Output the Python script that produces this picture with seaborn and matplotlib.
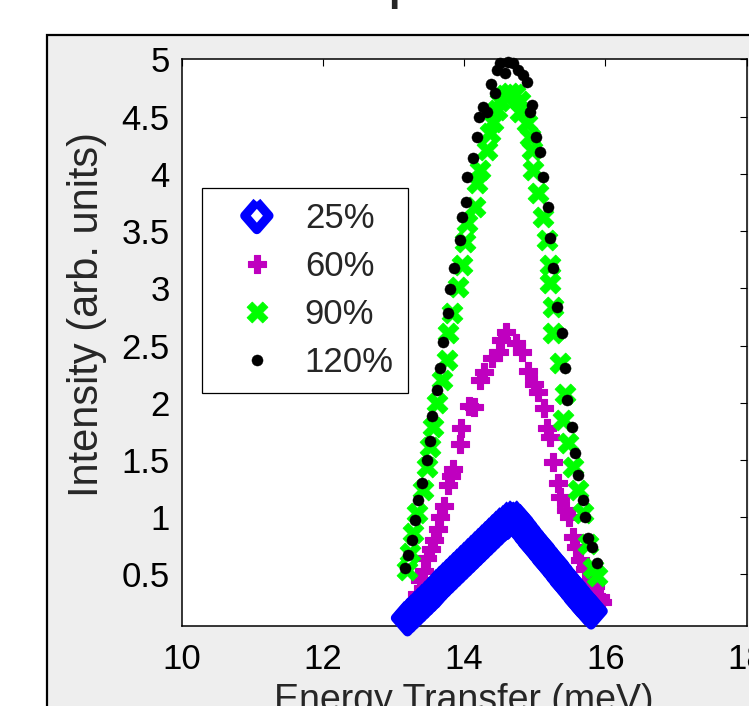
import numpy as np
import pandas as pd
import seaborn as sns
import matplotlib.pyplot as plt
from matplotlib.patches import Rectangle
from matplotlib.ticker import FuncFormatter

# values (energy in meV, intensity in arb. units)
labels = ['25%', '60%', '90%', '120%']

e_25 = [13.20, 13.25, 13.30, 13.35, 13.40, 13.45, 13.50, 13.55, 13.60, 13.65,
        13.70, 13.75, 13.80, 13.85, 13.90, 13.95, 14.00, 14.05, 14.10, 14.15,
        14.20, 14.25, 14.30, 14.35, 14.40, 14.45, 14.50, 14.55, 14.60, 14.65,
        14.70, 14.75, 14.80, 14.85, 14.90, 14.95, 15.00, 15.05, 15.10, 15.15,
        15.20, 15.25, 15.30, 15.35, 15.40, 15.45, 15.50, 15.55, 15.60, 15.65,
        15.70, 15.75, 15.80]
i_25 = [0.12, 0.15, 0.18, 0.21, 0.24, 0.27, 0.30, 0.33, 0.36, 0.40,
        0.43, 0.46, 0.49, 0.52, 0.55, 0.58, 0.61, 0.64, 0.67, 0.70,
        0.73, 0.76, 0.79, 0.82, 0.85, 0.88, 0.91, 0.94, 0.96, 0.99,
        1.00, 0.97, 0.93, 0.89, 0.85, 0.81, 0.77, 0.74, 0.70, 0.66,
        0.62, 0.59, 0.55, 0.51, 0.47, 0.43, 0.40, 0.36, 0.32, 0.28,
        0.25, 0.21, 0.18]

e_60 = [13.30, 13.34, 13.38, 13.43, 13.48, 13.53, 13.58, 13.63, 13.66, 13.71,
        13.77, 13.81, 13.84, 13.94, 13.96, 14.07, 14.14, 14.22, 14.29, 14.40,
        14.50, 14.52, 14.59, 14.73, 14.82, 14.91, 14.99, 15.05, 15.13, 15.17,
        15.22, 15.26, 15.33, 15.36, 15.44, 15.48, 15.54, 15.59, 15.64, 15.72,
        15.80, 15.85, 15.92, 15.95]
i_60 = [0.26, 0.33, 0.45, 0.53, 0.64, 0.72, 0.80, 0.90, 1.00, 1.10,
        1.28, 1.36, 1.42, 1.64, 1.78, 1.97, 1.96, 2.20, 2.27, 2.39,
        2.44, 2.55, 2.62, 2.52, 2.44, 2.28, 2.16, 2.09, 1.95, 1.78,
        1.70, 1.48, 1.30, 1.18, 1.06, 1.00, 0.83, 0.74, 0.63, 0.55,
        0.44, 0.40, 0.30, 0.26]

e_90 = [13.19, 13.24, 13.28, 13.34, 13.42, 13.48, 13.52, 13.56, 13.62, 13.69,
        13.76, 13.77, 13.83, 13.92, 13.97, 14.01, 14.04, 14.16, 14.18, 14.23,
        14.33, 14.37, 14.41, 14.47, 14.51, 14.58, 14.65, 14.72, 14.79, 14.79,
        14.89, 14.94, 14.96, 14.98, 15.05, 15.12, 15.18, 15.22, 15.22, 15.26,
        15.26, 15.36, 15.43, 15.40, 15.47, 15.54, 15.61, 15.69, 15.76, 15.83,
        15.88]
i_90 = [0.54, 0.69, 0.86, 1.04, 1.24, 1.44, 1.61, 1.79, 2.00, 2.20,
        2.37, 2.61, 2.78, 3.01, 3.20, 3.40, 3.57, 3.71, 3.92, 4.03,
        4.21, 4.36, 4.45, 4.56, 4.64, 4.69, 4.71, 4.70, 4.64, 4.54,
        4.44, 4.32, 4.21, 4.03, 3.83, 3.62, 3.42, 3.20, 3.05, 2.84,
        2.61, 2.35, 2.08, 1.85, 1.65, 1.44, 1.24, 1.04, 0.77, 0.56,
        0.49]

e_120 = [13.17, 13.21, 13.26, 13.31, 13.35, 13.41, 13.48, 13.52, 13.55, 13.62,
         13.66, 13.70, 13.77, 13.80, 13.86, 13.94, 13.97, 14.03, 14.04, 14.13,
         14.18, 14.21, 14.27, 14.33, 14.38, 14.44, 14.47, 14.51, 14.58, 14.62,
         14.69, 14.77, 14.84, 14.89, 14.96, 14.94, 15.02, 15.08, 15.12, 15.19,
         15.22, 15.26, 15.32, 15.39, 15.43, 15.46, 15.53, 15.57, 15.61, 15.69,
         15.71, 15.76, 15.81, 15.88]
i_120 = [0.56, 0.67, 0.80, 0.98, 1.15, 1.30, 1.50, 1.67, 1.88, 2.11,
         2.30, 2.53, 2.78, 2.99, 3.18, 3.42, 3.62, 3.75, 3.97, 4.14,
         4.32, 4.50, 4.58, 4.54, 4.78, 4.71, 4.91, 4.97, 4.88, 4.98,
         4.97, 4.91, 4.86, 4.80, 4.60, 4.54, 4.32, 4.19, 3.97, 3.71,
         3.44, 3.18, 2.84, 2.61, 2.30, 2.02, 1.79, 1.56, 1.37, 1.15,
         1.00, 0.82, 0.74, 0.60]

x_ticks = [10, 12, 14, 16, 18]
y_ticks = [0.5, 1, 1.5, 2, 2.5, 3, 3.5, 4, 4.5, 5]

sns.set_style('white')
plt.rcParams['font.family'] = ['Liberation Sans', 'DejaVu Sans']

W, H = 749, 706
fig = plt.figure(figsize=(W / 100, H / 100), dpi=100)
fig.patch.set_facecolor('white')

# grey panel with black frame (partly cut off by the crop)
fig.add_artist(Rectangle((47 / W, -0.2), 1.5, (H - 35) / H + 0.2,
                         transform=fig.transFigure, facecolor='#eeeeee',
                         edgecolor='black', linewidth=1.6, zorder=0))

ax = fig.add_axes([181.5 / W, 80 / H, 565 / W, 566.7 / H])
ax.set_facecolor('white')

diamond = [(0, 1), (0.87, 0), (0, -1), (-0.87, 0), (0, 1)]

d60 = pd.DataFrame({'e': e_60, 'i': i_60})
d25 = pd.DataFrame({'e': e_25, 'i': i_25})
d90 = pd.DataFrame({'e': e_90, 'i': i_90})
d120 = pd.DataFrame({'e': e_120, 'i': i_120})

sns.scatterplot(data=d60, x='e', y='i', ax=ax, marker='P', s=170,
                color='#bf00bf', edgecolor='#bf00bf', linewidth=0.8,
                zorder=2, clip_on=False)
sns.scatterplot(data=d25, x='e', y='i', ax=ax, marker=diamond, s=20 ** 2,
                color='#0000ff', facecolor='none', edgecolor='#0000ff',
                linewidth=6.6, zorder=3, clip_on=False)
sns.scatterplot(data=d90, x='e', y='i', ax=ax, marker='X', s=15 ** 2,
                color='#00ff00', edgecolor='#00ff00', linewidth=0.6,
                zorder=4, clip_on=False)
sns.scatterplot(data=d120, x='e', y='i', ax=ax, marker='o', s=8 ** 2,
                color='black', edgecolor='black', linewidth=0.3,
                zorder=5, clip_on=False)

coll = ax.collections
handles = [coll[1], coll[0], coll[2], coll[3]]
leg = ax.legend(handles, labels, loc='upper left',
                bbox_to_anchor=(202 / W, (H - 188) / H),
                bbox_transform=fig.transFigure, borderaxespad=0,
                fontsize=25, frameon=True, fancybox=False, framealpha=1,
                edgecolor='black', handlelength=2.36, handletextpad=0.2,
                labelspacing=0.43, borderpad=0.4, scatteryoffsets=[0.5])
leg.get_frame().set_linewidth(0.9)

ax.set_xlim(10, 18)
ax.set_ylim(0.05, 5)
ax.set_xticks(x_ticks)
ax.set_yticks(y_ticks)
fmt = FuncFormatter(lambda v, p: f'{v:g}')
ax.xaxis.set_major_formatter(fmt)
ax.yaxis.set_major_formatter(fmt)
ax.tick_params(direction='in', length=5, width=0.8, top=True, right=True,
               labelsize=25, colors='black')
ax.tick_params(axis='x', pad=12)
ax.tick_params(axis='y', pad=8.6)
for s in ax.spines.values():
    s.set_visible(True)
    s.set_color('black')
    s.set_linewidth(1.1)

ax.set_xlabel('Energy Transfer (meV)', fontsize=27)
ax.set_ylabel('Intensity (arb. units)', fontsize=30)
ax.xaxis.set_label_coords(0.5, -0.1)
ax.yaxis.set_label_coords(-0.132, 0.549)

# bottom of the title, cut off by the top edge of the picture
fig.text(388 / W, 1.0, 'p', fontsize=30, fontweight='bold',
         ha='left', va='baseline')

fig.savefig('out.png', dpi=100)
